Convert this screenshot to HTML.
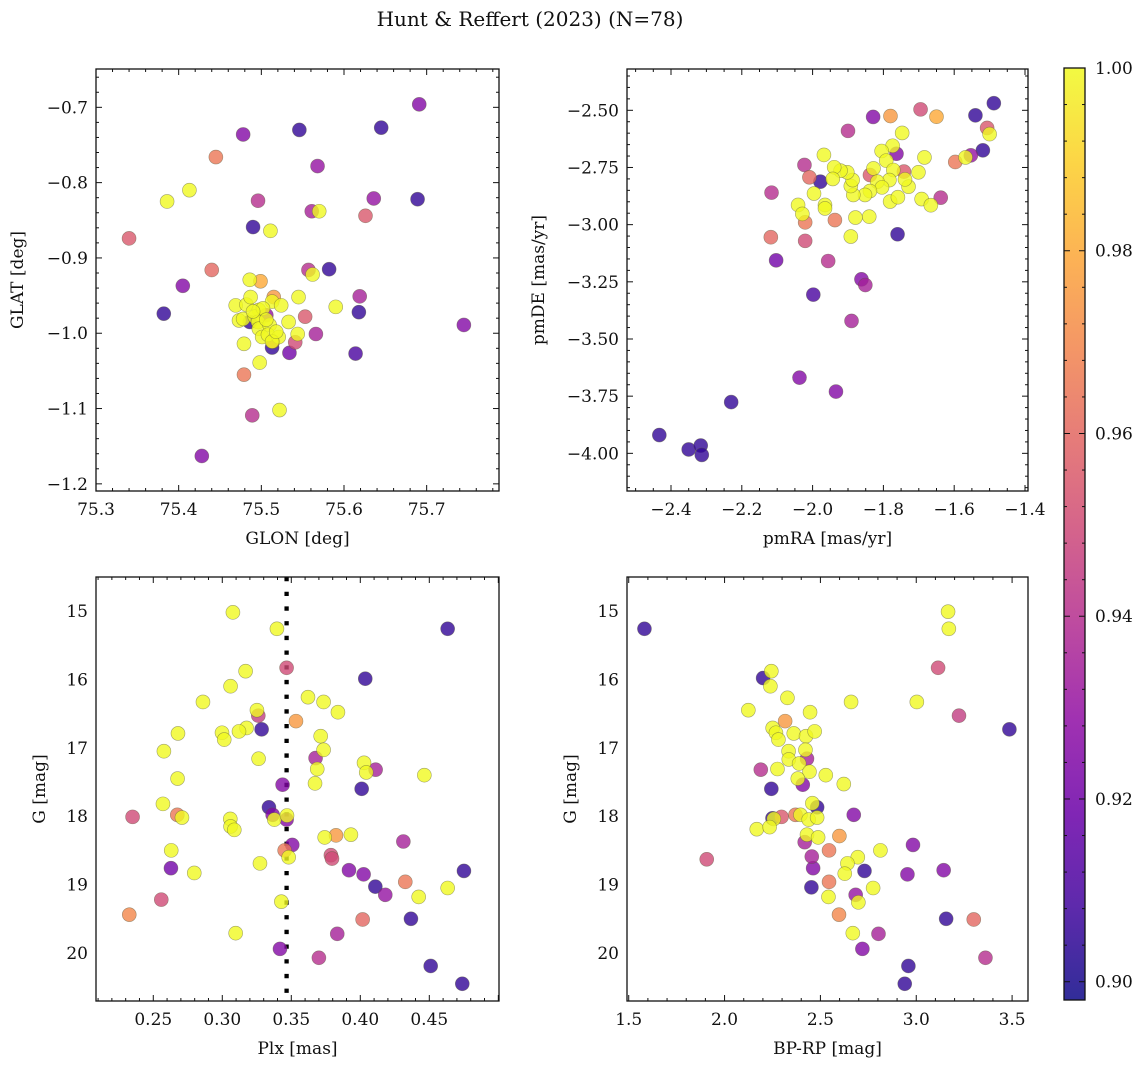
<!DOCTYPE html>
<html><head><meta charset="utf-8"><style>
body{margin:0;background:#fff}
svg text{font-family:"DejaVu Serif","Liberation Serif",serif;fill:#111}
</style></head><body>
<svg id="fig" width="1148" height="1068" viewBox="0 0 1148 1068" xmlns="http://www.w3.org/2000/svg">
<text x="530" y="26" font-size="20" text-anchor="middle">Hunt &amp; Reffert (2023) (N=78)</text>
</svg>
<script>
// Panel 1: GLON vs GLAT
const p1x=[75.691,75.645,75.546,75.478,75.445,75.568,75.413,75.386,75.496,75.636,75.689,75.561,75.570,75.626,75.340,75.490,75.511,75.440,75.405,75.382,75.557,75.562,75.582,75.486,75.499,75.619,75.618,75.590,75.745,75.553,75.566,75.614,75.534,75.541,75.513,75.479,75.498,75.489,75.522,75.428,75.469,75.482,75.487,75.473,75.479,75.478,75.497,75.492,75.496,75.497,75.510,75.513,75.515,75.524,75.533,75.544,75.545,75.501,75.508,75.521,75.513,75.506,75.486,75.514,75.502,75.506,75.490,75.518];
const p1y=[-0.696,-0.727,-0.730,-0.736,-0.766,-0.778,-0.810,-0.825,-0.824,-0.821,-0.822,-0.838,-0.838,-0.844,-0.874,-0.859,-0.864,-0.916,-0.937,-0.974,-0.916,-0.922,-0.915,-0.929,-0.931,-0.951,-0.972,-0.965,-0.989,-0.978,-1.001,-1.027,-1.026,-1.012,-1.019,-1.055,-1.039,-1.109,-1.102,-1.163,-0.963,-0.962,-0.952,-0.983,-1.014,-0.981,-0.969,-0.978,-0.985,-0.994,-0.989,-0.958,-0.952,-0.963,-0.985,-1.001,-0.952,-1.005,-1.002,-1.005,-1.011,-0.976,-0.985,-1.011,-0.967,-0.982,-0.971,-0.998];
const p1c=[0.925,0.905,0.905,0.925,0.965,0.93,1,1,0.94,0.93,0.905,0.935,1,0.955,0.955,0.905,1,0.96,0.925,0.905,0.94,1,0.905,1,0.98,0.935,0.905,1,0.925,0.955,0.935,0.91,0.92,0.95,0.905,0.965,1,0.94,1,0.925,1,1,1,1,1,1,1,1,1,1,1,1,0.975,1,1,1,1,1,1,1,1,0.93,0.905,0.975,1,1,1,1];
// Panel 2: pmRA vs pmDE
const p2x=[-1.488,-1.540,-1.695,-1.650,-1.780,-1.829,-1.900,-1.507,-1.500,-1.747,-1.519,-1.553,-1.568,-1.597,-1.684,-1.763,-1.774,-1.805,-1.792,-1.772,-1.742,-1.701,-1.729,-1.739,-1.783,-1.828,-1.838,-1.817,-1.804,-1.838,-1.852,-1.885,-1.892,-1.887,-1.902,-1.921,-1.939,-1.943,-1.968,-1.978,-2.009,-2.023,-2.116,-1.996,-2.041,-2.029,-2.021,-1.965,-1.965,-1.937,-1.879,-1.840,-1.892,-1.781,-1.759,-1.692,-1.666,-1.638,-1.760,-2.118,-2.021,-2.103,-1.956,-1.862,-1.851,-1.998,-1.890,-2.037,-1.934,-2.230,-2.433,-2.350,-2.316,-2.313];
const p2y=[-2.469,-2.522,-2.496,-2.528,-2.525,-2.529,-2.590,-2.577,-2.604,-2.599,-2.675,-2.697,-2.706,-2.726,-2.706,-2.690,-2.655,-2.678,-2.720,-2.761,-2.768,-2.771,-2.834,-2.802,-2.805,-2.754,-2.783,-2.812,-2.837,-2.853,-2.870,-2.870,-2.831,-2.805,-2.771,-2.764,-2.749,-2.800,-2.695,-2.812,-2.793,-2.739,-2.860,-2.864,-2.914,-2.953,-2.990,-2.914,-2.929,-2.980,-2.969,-2.965,-3.052,-2.899,-2.880,-2.888,-2.915,-2.882,-3.042,-3.055,-3.071,-3.156,-3.159,-3.239,-3.264,-3.306,-3.421,-3.669,-3.730,-3.776,-3.920,-3.983,-3.966,-4.007];
const p2c=[0.905,0.905,0.95,0.98,0.975,0.925,0.94,0.955,1,1,0.905,0.93,1,0.965,1,0.925,1,1,1,1,0.955,1,1,1,1,1,0.955,1,1,1,1,1,1,1,1,1,1,1,1,0.905,0.96,0.94,0.94,1,1,1,0.965,1,1,0.965,1,1,1,1,1,1,1,0.94,0.905,0.96,0.95,0.92,0.94,0.925,0.935,0.91,0.935,0.925,0.925,0.905,0.905,0.905,0.905,0.905];
// Panel 3: Plx vs G
const p3x=[0.3077,0.3396,0.4633,0.3466,0.4036,0.3169,0.3060,0.2860,0.3621,0.3734,0.3838,0.3534,0.3251,0.3261,0.3285,0.3176,0.3121,0.2998,0.3014,0.2679,0.2577,0.3263,0.3713,0.3734,0.3676,0.3688,0.3672,0.4027,0.4111,0.4043,0.4464,0.2676,0.3437,0.4010,0.2570,0.2350,0.2674,0.2708,0.3058,0.3060,0.3087,0.3338,0.3365,0.3377,0.3469,0.3466,0.3742,0.3824,0.3932,0.4312,0.3507,0.3452,0.3481,0.2630,0.3273,0.3787,0.3795,0.2628,0.2797,0.3918,0.4024,0.4751,0.4109,0.4181,0.4326,0.4423,0.4633,0.2558,0.2326,0.3428,0.4367,0.4017,0.3097,0.3833,0.3418,0.3700,0.4510,0.4739];
const p3y=[15.02,15.26,15.26,15.83,15.99,15.88,16.10,16.33,16.26,16.33,16.48,16.61,16.45,16.53,16.73,16.71,16.76,16.78,16.88,16.79,17.05,17.16,16.83,17.03,17.15,17.31,17.52,17.22,17.32,17.36,17.40,17.45,17.54,17.60,17.82,18.01,17.98,18.02,18.04,18.15,18.20,17.87,17.98,18.05,17.99,18.05,18.31,18.28,18.27,18.37,18.42,18.50,18.60,18.50,18.69,18.57,18.62,18.76,18.83,18.79,18.85,18.80,19.03,19.15,18.96,19.18,19.05,19.22,19.44,19.25,19.50,19.51,19.71,19.72,19.94,20.07,20.19,20.45];
const p3c=[1,1,0.905,0.95,0.905,1,1,1,1,1,1,0.975,1,0.945,0.905,1,1,1,1,1,1,1,1,1,0.935,1,1,1,0.935,1,1,1,0.925,0.905,1,0.95,0.965,1,1,1,1,0.905,0.925,1,1,0.925,1,0.975,1,0.935,0.925,0.965,1,1,1,0.95,0.95,0.92,1,0.925,0.925,0.905,0.905,0.93,0.965,1,1,0.95,0.97,1,0.905,0.96,1,0.935,0.925,0.94,0.905,0.905];
// Panel 4: BP-RP vs G
const p4x=[1.582,3.166,3.170,3.114,2.201,2.244,2.239,2.328,2.660,3.003,2.124,2.446,3.223,2.316,3.486,2.251,2.268,2.281,2.361,2.425,2.470,2.334,2.422,2.430,2.335,2.389,2.443,2.189,2.276,2.528,2.622,2.382,2.408,2.244,2.483,2.458,2.674,2.297,2.250,2.257,2.370,2.396,2.439,2.483,2.168,2.235,2.430,2.418,2.488,2.599,2.983,2.545,2.813,1.907,2.455,2.462,2.695,2.641,2.627,2.730,2.954,3.143,2.453,2.545,2.775,2.542,2.684,2.698,2.597,3.156,3.300,2.669,2.803,2.719,3.361,2.959,2.940];
const p4y=[15.26,15.01,15.26,15.83,15.98,15.88,16.10,16.27,16.33,16.33,16.45,16.48,16.53,16.61,16.73,16.71,16.78,16.88,16.79,16.83,16.76,17.05,17.03,17.16,17.17,17.23,17.35,17.32,17.31,17.40,17.53,17.45,17.54,17.60,17.87,17.81,17.98,18.01,18.03,18.04,17.98,17.98,18.05,18.02,18.19,18.16,18.27,18.38,18.31,18.29,18.42,18.50,18.50,18.63,18.59,18.76,18.60,18.69,18.84,18.80,18.85,18.79,19.04,18.96,19.05,19.18,19.15,19.26,19.44,19.50,19.51,19.71,19.72,19.94,20.07,20.19,20.45];
const p4c=[0.905,1,1,0.95,0.905,1,1,1,1,1,1,1,0.945,0.975,0.905,1,1,1,1,1,1,1,1,0.935,1,1,1,0.94,1,1,1,1,0.925,0.905,0.905,1,0.925,0.955,0.905,1,0.965,1,1,1,1,1,1,0.935,1,0.975,0.925,0.965,1,0.95,0.935,0.925,1,1,1,0.905,0.925,0.925,0.905,0.965,1,1,0.93,1,0.97,0.905,0.96,1,0.935,0.925,0.94,0.905,0.905];
const cbTicks=[0.90,0.92,0.94,0.96,0.98,1.00];
const plxLine=0.3466;

const NS='http://www.w3.org/2000/svg';
const svg=document.getElementById('fig');
function mk(tag,attrs,parent){const e=document.createElementNS(NS,tag);for(const k in attrs)e.setAttribute(k,attrs[k]);(parent||svg).appendChild(e);return e;}
const stops=['#0d0887','#41049d','#6a00a8','#8f0da4','#b12a90','#cc4778','#e16462','#f2844b','#fca636','#fcce25','#f0f921'];
function hex(h){return [1,3,5].map(i=>parseInt(h.substr(i,2),16));}
const CMIN=0.898,CMAX=1.0;
function plasma(v){let t=(v-CMIN)/(CMAX-CMIN);t=Math.max(0,Math.min(1,t));const f=t*10,i=Math.min(9,Math.floor(f)),r=f-i;const a=hex(stops[i]),b=hex(stops[i+1]);return 'rgb('+a.map((x,k)=>Math.round(x+(b[k]-x)*r)).join(',')+')';}

function panel(o){
  const g=mk('g',{});
  
  
  const sx=v=>o.L+(v-o.xl[0])/(o.xl[1]-o.xl[0])*(o.R-o.L);
  const sy=v=>o.B-(v-o.yl[0])/(o.yl[1]-o.yl[0])*(o.B-o.T);
  if(o.vline!==undefined){const l=mk('line',{x1:sx(o.vline),x2:sx(o.vline),y1:o.T,y2:o.B,stroke:'#000','stroke-width':4.3,'stroke-dasharray':'4.3 10.4'},g);
    
    }
  const idx=o.x.map((_,i)=>i).sort((a,b)=>o.c[a]-o.c[b]);
  idx.forEach(i=>{const c=mk('circle',{cx:sx(o.x[i]),cy:sy(o.y[i]),r:7,fill:plasma(o.c[i]),'fill-opacity':0.8,stroke:'rgba(90,90,60,0.55)','stroke-width':0.6},g);
    
    });
  mk('rect',{x:o.L,y:o.T,width:o.R-o.L,height:o.B-o.T,fill:'none',stroke:'#111','stroke-width':1.3},g);
  const eps=1e-9;
  for(let v=Math.ceil(o.xl[0]/o.xmin-eps)*o.xmin;v<=o.xl[1]+eps;v+=o.xmin){
    const maj=Math.abs(v/o.xmaj-Math.round(v/o.xmaj))<1e-4;const x=sx(v),len=maj?6:3;
    mk('line',{x1:x,x2:x,y1:o.B,y2:o.B-len,stroke:'#111','stroke-width':1},g);
    mk('line',{x1:x,x2:x,y1:o.T,y2:o.T+len,stroke:'#111','stroke-width':1},g);
  }
  o.xt.forEach(v=>{const t=mk('text',{x:sx(v),y:o.B+24,'font-size':17,'text-anchor':'middle'},g);t.textContent=o.xf(v);
    
    });
  for(let v=Math.ceil(o.yl[0]/o.ymin-eps)*o.ymin;v<=o.yl[1]+eps;v+=o.ymin){
    const maj=Math.abs(v/o.ymaj-Math.round(v/o.ymaj))<1e-4;const y=sy(v),len=maj?6:3;
    mk('line',{x1:o.L,x2:o.L+len,y1:y,y2:y,stroke:'#111','stroke-width':1},g);
    mk('line',{x1:o.R,x2:o.R-len,y1:y,y2:y,stroke:'#111','stroke-width':1},g);
  }
  o.yt.forEach(v=>{const t=mk('text',{x:o.L-8,y:sy(v)+6,'font-size':17,'text-anchor':'end'},g);t.textContent=o.yf(v);
    
    });
  const xl=mk('text',{x:(o.L+o.R)/2,y:o.B+53,'font-size':17,'text-anchor':'middle'},g);xl.textContent=o.xlab;
  
  
  const yl=mk('text',{x:0,y:0,'font-size':17,'text-anchor':'middle',transform:'translate('+o.ylx+','+((o.T+o.B)/2)+') rotate(-90)'},g);yl.textContent=o.ylab;
  
  
}
panel({name:'glon-glat-panel',L:96,R:499,T:69,B:491,xl:[75.3,75.7875],yl:[-1.2095,-0.6491],x:p1x,y:p1y,c:p1c,
  xmaj:0.1,xmin:0.02,ymaj:0.1,ymin:0.02,xt:[75.3,75.4,75.5,75.6,75.7],yt:[-1.2,-1.1,-1.0,-0.9,-0.8,-0.7],
  xf:v=>v.toFixed(1),yf:v=>'\u2212'+Math.abs(v).toFixed(1),xlab:'GLON [deg]',ylab:'GLAT [deg]',ylx:23});
panel({name:'pmra-pmde-panel',L:627,R:1028,T:69,B:491,xl:[-2.5243,-1.3915],yl:[-4.1647,-2.3194],x:p2x,y:p2y,c:p2c,
  xmaj:0.2,xmin:0.05,ymaj:0.25,ymin:0.05,xt:[-2.4,-2.2,-2.0,-1.8,-1.6,-1.4],yt:[-4.0,-3.75,-3.5,-3.25,-3.0,-2.75,-2.5],
  xf:v=>'\u2212'+Math.abs(v).toFixed(1),yf:v=>'\u2212'+Math.abs(v).toFixed(2),xlab:'pmRA [mas/yr]',ylab:'pmDE [mas/yr]',ylx:544});
panel({name:'plx-g-panel',L:96,R:499,T:577,B:1001,xl:[0.2085,0.5005],yl:[20.702,14.503],x:p3x,y:p3y,c:p3c,vline:plxLine,
  xmaj:0.05,xmin:0.01,ymaj:1,ymin:0.2,xt:[0.25,0.30,0.35,0.40,0.45],yt:[15,16,17,18,19,20],
  xf:v=>v.toFixed(2),yf:v=>String(v),xlab:'Plx [mas]',ylab:'G [mag]',ylx:45});
panel({name:'bprp-g-panel',L:627,R:1028,T:577,B:1001,xl:[1.491,3.583],yl:[20.702,14.503],x:p4x,y:p4y,c:p4c,
  xmaj:0.5,xmin:0.1,ymaj:1,ymin:0.2,xt:[1.5,2.0,2.5,3.0,3.5],yt:[15,16,17,18,19,20],
  xf:v=>v.toFixed(1),yf:v=>String(v),xlab:'BP-RP [mag]',ylab:'G [mag]',ylx:576});
(function(){
  const g=mk('g',{});
  
  
  const L=1064,R=1085,T=68,B=1000;
  const defs=mk('defs',{},g);const lg=mk('linearGradient',{id:'cbg',x1:0,y1:1,x2:0,y2:0},defs);
  stops.forEach((s,i)=>mk('stop',{offset:i/10,'stop-color':s,'stop-opacity':0.85},lg));
  mk('rect',{x:L,y:T,width:R-L,height:B-T,fill:'url(#cbg)',stroke:'#111','stroke-width':1.3},g);
  const sy=v=>B-(v-CMIN)/(CMAX-CMIN)*(B-T);
  for(let v=0.9;v<=1.0001;v+=0.004){const y=sy(v);const maj=Math.abs(v*50-Math.round(v*50))<1e-3;
    mk('line',{x1:R,x2:R-(maj?6:3),y1:y,y2:y,stroke:'#111','stroke-width':1},g);
    mk('line',{x1:L,x2:L+(maj?6:3),y1:y,y2:y,stroke:'#111','stroke-width':1},g);}
  cbTicks.forEach(v=>{const t=mk('text',{x:R+10,y:sy(v)+6,'font-size':17},g);t.textContent=v.toFixed(2);
    
    });
})();
</script>
</body></html>
